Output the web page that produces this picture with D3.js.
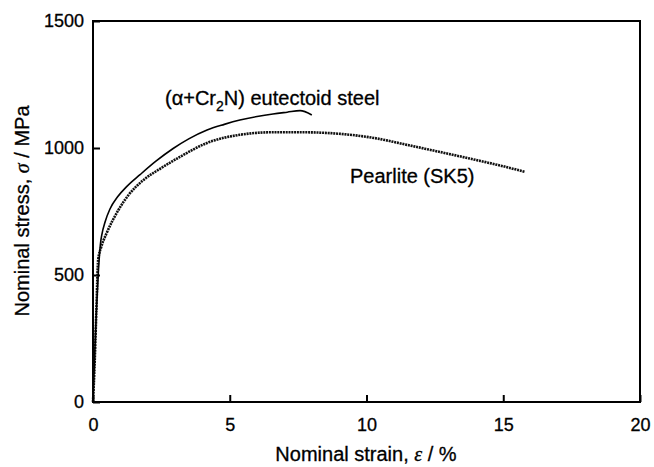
<!DOCTYPE html>
<html>
<head>
<meta charset="utf-8">
<script src="https://cdn.jsdelivr.net/npm/d3@7"></script>
<style>
  body { margin: 0; background: #fff; }
  text { font-family: "Liberation Sans", Arial, sans-serif; fill: #000; stroke: #000; stroke-width: 0.3px; }
</style>
</head>
<body>
<div class="wrapper"></div>
<script>
const w = 654
const h = 467
const plotLeft = 93, plotRight = 640, plotTop = 21, plotBottom = 402

const xTicks = [0, 5, 10, 15, 20]
const yTicks = [0, 500, 1000, 1500]

// (alpha+Cr2N) eutectoid steel
const strainAlpha = [0, 0.05, 0.12, 0.2, 0.28, 0.32, 0.45, 0.62, 0.9, 1.23, 1.72, 2.3, 2.93, 3.5, 4.17, 4.8, 5.37, 6.0, 6.58, 7.1, 7.57, 8.0]
const stressAlpha = [0, 150, 350, 520, 630, 657, 712, 760, 808, 848, 895, 948, 998, 1036, 1071, 1093, 1110, 1124, 1134, 1141, 1147, 1130]

// Pearlite (SK5)
const strainPearlite = [0, 0.06, 0.12, 0.19, 0.3, 0.5, 0.93, 1.3, 1.8, 2.45, 3.18, 4.17, 5.37, 6.58, 7.6, 9.0, 10.3, 11.5, 12.7, 14.0, 15.0, 15.8]
const stressPearlite = [0, 150, 350, 560, 610, 665, 756, 815, 870, 918, 965, 1020, 1052, 1062, 1062, 1056, 1039, 1012, 984, 953, 928, 906]

const xScale = d3.scaleLinear().domain([0, 20]).range([plotLeft, plotRight])
const yScale = d3.scaleLinear().domain([0, 1500]).range([plotBottom, plotTop])

const svg = d3.select(".wrapper")
  .append("svg")
  .attr("width", w)
  .attr("height", h)

// frame
svg.append("rect")
  .attr("x", plotLeft).attr("y", plotTop)
  .attr("width", plotRight - plotLeft).attr("height", plotBottom - plotTop)
  .attr("fill", "none").attr("stroke", "#000").attr("stroke-width", 2)

const xAxis = d3.axisBottom(xScale).tickValues(xTicks).tickSize(-7).tickPadding(16).tickFormat(d3.format("d"))
const yAxis = d3.axisLeft(yScale).tickValues(yTicks).tickSize(-7).tickPadding(9).tickFormat(d3.format("d"))

const gx = svg.append("g")
  .attr("transform", "translate(0, " + plotBottom + ")")
  .call(xAxis)
const gy = svg.append("g")
  .attr("transform", "translate(" + plotLeft + ", 0)")
  .call(yAxis)

for (const g of [gx, gy]) {
  g.select(".domain").remove()
  g.selectAll("line").attr("stroke", "#000").attr("stroke-width", 2)
  g.selectAll("text").style("font-size", "18px").style("font-family", "Liberation Sans, Arial, sans-serif")
}

const line = d3.line()
  .x((d) => xScale(d[0]))
  .y((d) => yScale(d[1]))
  .curve(d3.curveMonotoneX)

svg.append("path")
  .datum(strainPearlite.map((s, i) => [s, stressPearlite[i]]))
  .attr("d", line)
  .attr("fill", "none")
  .attr("stroke", "#111")
  .attr("stroke-width", 2.6)
  .attr("stroke-dasharray", "2,0.8")

svg.append("path")
  .datum(strainAlpha.map((s, i) => [s, stressAlpha[i]]))
  .attr("d", line)
  .attr("fill", "none")
  .attr("stroke", "#000")
  .attr("stroke-width", 1.6)

// curve labels
const lab1 = svg.append("text")
  .attr("x", 165).attr("y", 105)
  .style("font-size", "20px")
lab1.append("tspan").text("(α+Cr")
lab1.append("tspan").attr("dy", 6).style("font-size", "14px").text("2")
lab1.append("tspan").attr("dy", -6).text("N) eutectoid steel")

svg.append("text")
  .attr("x", 350).attr("y", 183)
  .style("font-size", "20px")
  .text("Pearlite (SK5)")

// axis titles
const xt = svg.append("text")
  .attr("x", 366).attr("y", 461)
  .attr("text-anchor", "middle")
  .style("font-size", "20px")
xt.append("tspan").text("Nominal strain, ")
xt.append("tspan").style("font-family", "Liberation Serif, serif").style("font-style", "italic").text("ε")
xt.append("tspan").text(" / %")

const yt = svg.append("text")
  .attr("transform", "translate(29, 211) rotate(-90)")
  .attr("text-anchor", "middle")
  .style("font-size", "20px")
yt.append("tspan").text("Nominal stress, ")
yt.append("tspan").style("font-family", "Liberation Serif, serif").style("font-style", "italic").text("σ")
yt.append("tspan").text(" / MPa")
</script>
</body>
</html>
